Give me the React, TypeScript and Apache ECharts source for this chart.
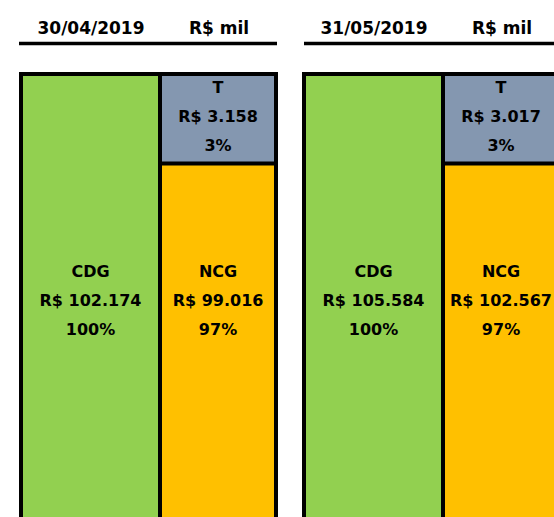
import React, { useEffect, useRef } from "react";
import * as echarts from "echarts";

// ---- data ----
const dates = ["30/04/2019", "31/05/2019"];
const unitLabel = "R$ mil";
const seriesNames = ["CDG", "NCG", "T"];
const cdgValues = [102174, 105584];
const ncgValues = [99016, 102567];
const tValues = [3158, 3017];

// ---- colours ----
const COLORS = { CDG: "#92D050", NCG: "#FFC000", T: "#8497B0" };
const FONT = "DejaVu Sans";

const fmt = (v: number) => String(Math.round(v)).replace(/\B(?=(\d{3})+(?!\d))/g, ".");

// layout constants
const GRID_TOP = 72;
const GRID_H = 454;
const T_PX = 89.5; // displayed height of the T block (value axis is truncated)
const GRID_LEFTS = [9.5, 292.5];
const GRID_W = 278;
const CDG_W = 143;
const RIGHT_W = 120;

export default function App() {
  const ref = useRef<HTMLDivElement>(null);
  useEffect(() => {
    if (!ref.current) return;
    const chart = echarts.init(ref.current, undefined, { renderer: "svg" });

    const grids: any[] = [];
    const xAxes: any[] = [];
    const yAxes: any[] = [];
    const series: any[] = [];
    const graphics: any[] = [];

    dates.forEach((d, i) => {
      const total = cdgValues[i];
      const yMax = total;
      const yMin = yMax - tValues[i] * (GRID_H / T_PX);
      grids.push({ left: GRID_LEFTS[i], top: GRID_TOP, width: GRID_W, height: GRID_H, containLabel: false });
      xAxes.push({ type: "category", gridIndex: i, data: [seriesNames[0], seriesNames[1] + "/" + seriesNames[2]], show: false });
      yAxes.push({ type: "value", gridIndex: i, min: yMin, max: yMax, show: false });

      const labelBase = {
        show: true,
        fontFamily: FONT,
        fontWeight: "bold",
        fontSize: 16,
        lineHeight: 29,
        color: "#000",
        align: "center",
        verticalAlign: "middle",
      };
      const text = (name: string, v: number) =>
        `${name}\nR$ ${fmt(v)}\n${Math.round((v / total) * 100)}%`;
      const border = { borderColor: "#000", borderWidth: 4 };

      // CDG column
      series.push({
        type: "bar",
        name: seriesNames[0],
        xAxisIndex: i,
        yAxisIndex: i,
        data: [cdgValues[i], "-"],
        barWidth: CDG_W,
        barGap: "-100%",
        itemStyle: { color: COLORS.CDG, ...border },
        label: { ...labelBase, position: "inside", formatter: (p: any) => text(seriesNames[0], p.value) },
        silent: true,
      });
      // T block: top of the NCG + T stack (NCG drawn over its lower part)
      series.push({
        type: "bar",
        name: seriesNames[2],
        xAxisIndex: i,
        yAxisIndex: i,
        data: ["-", ncgValues[i] + tValues[i]],
        barWidth: RIGHT_W,
        barGap: "-100%",
        itemStyle: { color: COLORS.T, ...border },
        label: { ...labelBase, position: ["50%", 44], formatter: () => text(seriesNames[2], tValues[i]) },
        silent: true,
        z: 2,
      });
      // NCG block
      series.push({
        type: "bar",
        name: seriesNames[1],
        xAxisIndex: i,
        yAxisIndex: i,
        data: ["-", ncgValues[i]],
        barWidth: RIGHT_W,
        barGap: "-100%",
        itemStyle: { color: COLORS.NCG, ...border },
        label: { ...labelBase, position: "inside", offset: [0, -44.75], formatter: (p: any) => text(seriesNames[1], p.value) },
        silent: true,
        z: 3,
      });

      // header
      const x0 = i === 0 ? 19 : 302;
      graphics.push({
        type: "text",
        x: x0 + 72,
        y: 28,
        style: { text: d, font: `bold 17px "${FONT}"`, fill: "#000", align: "center", verticalAlign: "middle" },
      });
      graphics.push({
        type: "text",
        x: x0 + 200,
        y: 28,
        style: { text: unitLabel, font: `bold 17px "${FONT}"`, fill: "#000", align: "center", verticalAlign: "middle" },
      });
      graphics.push({
        type: "line",
        shape: { x1: i === 0 ? x0 : x0 + 2, y1: 43.5, x2: i === 0 ? x0 + 258 : 600, y2: 43.5 },
        style: { stroke: "#000", lineWidth: 3.5 },
      });
    });

    chart.setOption({
      animation: false,
      backgroundColor: "#fff",
      grid: grids,
      xAxis: xAxes,
      yAxis: yAxes,
      series,
      graphic: graphics,
    });
    return () => chart.dispose();
  }, []);
  return (
    <div style={{ position: "absolute", left: 0, top: 0, width: 554, height: 517, overflow: "hidden", background: "#fff" }}>
      <div ref={ref} style={{ width: 600, height: 560 }} />
    </div>
  );
}
